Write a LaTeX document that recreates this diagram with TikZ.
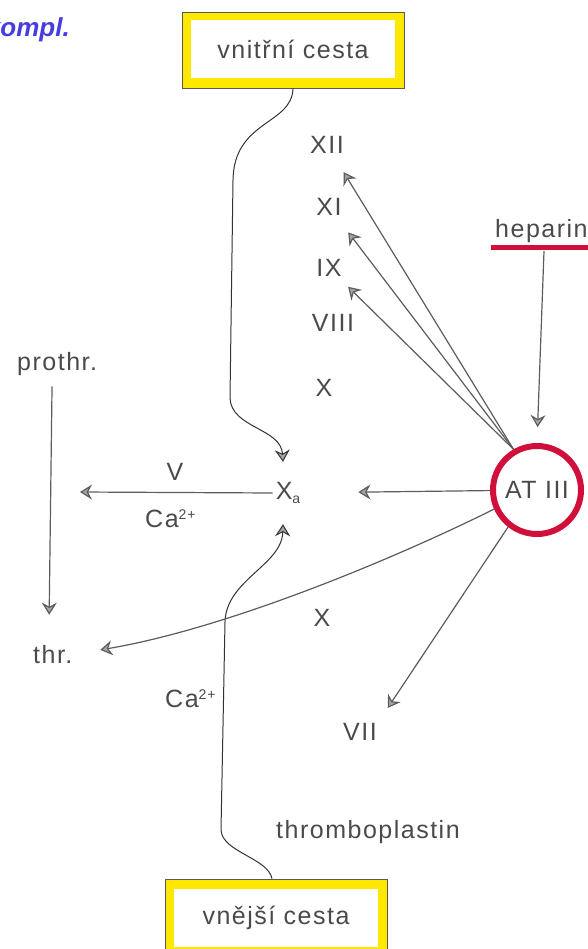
\documentclass[tikz,border=0pt]{standalone}
\usepackage{fontspec}
\setmainfont{Liberation Sans}
\newfontfamily\lab{Liberation Sans}[LetterSpace=6]
\usetikzlibrary{arrows.meta}
\definecolor{ink}{HTML}{4A4A4A}
\definecolor{ln}{HTML}{5C5C5C}
\definecolor{yel}{RGB}{255,232,0}
\definecolor{atred}{RGB}{208,16,58}
\definecolor{pen}{RGB}{70,60,225}
\newcommand\casup{Ca\raisebox{8pt}{\fontsize{14}{14}\selectfont 2+}}
\begin{document}
\begin{tikzpicture}[x=1pt,y=-1pt,
  lbl/.style={font=\lab\fontsize{25}{28}\selectfont, text=ink, inner sep=3pt},
  harrow/.style={-{Stealth[length=12pt,width=15pt,inset=4pt,fill=ln!55]}},
  conn/.style={draw=ln, line width=1.2pt, harrow},
  crv/.style={draw=black!80, line width=1pt},
  outerbox/.style={draw=black!65, line width=0.8pt, fill=yel, minimum width=222pt, minimum height=76pt, inner sep=0pt},
  innerbox/.style={fill=white, minimum width=204pt, minimum height=58pt, inner sep=0pt, font=\lab\fontsize{25}{28}\selectfont, text=ink}]
\useasboundingbox (0,0) rectangle (587,949);

% handwritten note
\node[font=\bfseries\itshape\fontsize{26}{28}\selectfont, text=pen, anchor=base east, inner sep=0pt] (kompl) at (70,37) {kompl.};

% boxes
\node[outerbox] (vnb) at (293,50) {};
\node[innerbox] (vn) at (293,49) {vnitřní cesta};
\node[outerbox] (veb) at (276,917) {};
\node[innerbox] (ve) at (276,918) {vnější cesta};

% central node
\node[lbl, minimum height=62pt] (xa) at (288,493) {X\raisebox{-4pt}{\fontsize{14}{14}\selectfont a}};

% AT III
\node[circle, draw=atred, line width=6pt, minimum size=88pt, inner sep=0pt, font=\lab\fontsize{25}{28}\selectfont, text=ink] (at) at (537,490) {AT III};

% heparin
\node[lbl, anchor=base west, inner sep=0pt] (hep) at (495,238) {heparin};
\draw[atred, line width=5pt] (491,248) -- (600,248);
\coordinate (hepu) at (544,251);

% labels
\node[lbl] (xii) at (327,145) {XII};
\node[lbl] (xi) at (329,207) {XI};
\node[lbl] (ix) at (329,268) {IX};
\node[lbl] (viii) at (333,323) {VIII};
\node[lbl] (xup) at (324,388) {X};
\node[lbl] (xlo) at (322,618) {X};
\node[lbl] (v) at (175,472) {V};
\node[lbl, anchor=base west] (ca1) at (142,527) {\casup};
\node[lbl, anchor=base west] (ca2) at (162,707) {\casup};
\node[lbl, anchor=base west] (tp) at (273,838) {thromboplastin};
\node[lbl, anchor=base west] (vii) at (340,740) {VII};
\node[lbl, anchor=base west] (prothr) at (14,370) {prothr.};
\node[lbl, anchor=base west] (thr) at (30,663) {thr.};
\coordinate (vend) at (80,492);

% connectors
\draw[crv, harrow] (vnb.south) .. controls (292,125) and (234,120) .. (233,180)
   -- (230,398) .. controls (231,428) and (281,428) .. ([xshift=-5pt]xa.north);
\draw[crv, harrow] ([xshift=-4pt]veb.north) .. controls (268,858) and (222,852) .. (221,830)
   -- (225,622) .. controls (226,580) and (282,565) .. ([xshift=-5pt]xa.south);
\draw[conn] (xa.west) -- (vend);
\draw[conn, shorten >=55pt] (at) -- (xa);
\draw[conn, shorten >=18pt] (at.120) -- (xii);
\draw[conn, shorten >=17pt] (at.120) -- (xi);
\draw[conn, shorten >=10pt] (at.120) -- (ix);
\draw[conn, shorten >=16pt] (hepu) -- (at.north);
\draw[conn, shorten >=25pt] (at.204) .. controls (400,556) and (230,628) .. (thr.east);
\draw[conn, shorten >=14pt] (at.232) -- (vii.north east);
\draw[conn, shorten <=8pt, shorten >=27pt] ([xshift=-5pt]prothr.south) -- ([xshift=-4pt]thr.north);
\end{tikzpicture}
\end{document}
